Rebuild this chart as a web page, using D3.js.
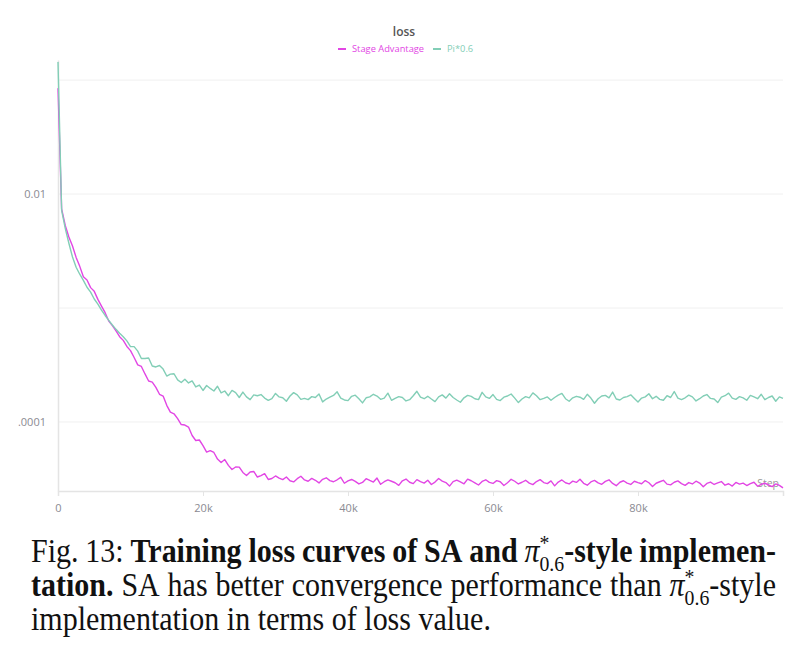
<!DOCTYPE html>
<html>
<head>
<meta charset="utf-8">
<script src="https://cdn.jsdelivr.net/npm/d3@7"></script>
<style>
  body { margin: 0; background: #fff; }
  svg { display: block; }
</style>
</head>
<body>
<svg id="chart" width="806" height="658"></svg>
<script>
// loss curves, one value logged every 500 steps (0 .. 100k)
const stepEvery = 500;

const stageAdvantage = [
  0.085, 0.0074, 0.0053, 0.0042, 0.0035, 0.00278, 0.00232, 0.00188, 0.00176, 0.00151,
  0.00140, 0.00119, 0.00104, 9.1e-4, 7.7e-4, 7.0e-4, 6.3e-4, 5.6e-4, 5.2e-4, 4.6e-4,
  4.23e-4, 3.68e-4, 3.17e-4, 3.07e-4, 2.64e-4, 2.29e-4, 2.24e-4, 2.01e-4, 1.75e-4, 1.69e-4,
  1.40e-4, 1.22e-4, 1.18e-4, 1.07e-4, 9.5e-5,
  9.40e-5, 9.02e-5, 7.61e-5, 6.88e-5, 6.95e-5, 6.21e-5, 5.44e-5, 5.61e-5, 5.40e-5, 4.73e-5,
  4.41e-5, 4.68e-5, 4.16e-5, 3.83e-5, 4.03e-5, 4.02e-5, 3.61e-5, 3.39e-5, 3.64e-5, 3.68e-5,
  3.29e-5, 3.39e-5, 3.52e-5, 3.13e-5, 3.19e-5, 3.36e-5,
  3.22e-5, 3.12e-5, 3.29e-5, 3.05e-5, 2.98e-5, 3.18e-5, 3.34e-5, 3.10e-5, 3.02e-5, 3.20e-5,
  3.08e-5, 2.92e-5, 3.14e-5, 3.24e-5, 3.06e-5, 2.99e-5, 3.11e-5, 3.27e-5, 2.90e-5, 3.04e-5,
  3.13e-5, 3.01e-5, 2.86e-5, 2.95e-5, 3.18e-5, 3.07e-5, 2.97e-5, 3.22e-5, 2.84e-5, 2.99e-5,
  3.10e-5, 3.02e-5, 2.93e-5, 2.78e-5, 3.05e-5, 3.16e-5, 2.96e-5, 2.88e-5, 3.12e-5, 3.00e-5,
  2.91e-5, 3.08e-5, 2.83e-5, 2.97e-5, 3.19e-5, 3.03e-5, 2.94e-5, 2.74e-5, 3.00e-5, 3.09e-5,
  2.98e-5, 2.87e-5, 3.15e-5, 3.05e-5, 2.92e-5, 2.80e-5, 3.01e-5, 3.11e-5, 2.95e-5, 2.89e-5,
  3.06e-5, 2.99e-5, 2.77e-5, 2.93e-5, 3.14e-5, 3.02e-5, 2.86e-5, 2.96e-5, 3.08e-5, 2.91e-5,
  2.82e-5, 3.00e-5, 3.12e-5, 2.94e-5, 2.88e-5, 3.04e-5, 2.75e-5, 2.97e-5, 3.10e-5, 2.93e-5,
  2.86e-5, 3.03e-5, 2.95e-5, 3.15e-5, 2.90e-5, 2.79e-5, 2.98e-5, 3.07e-5, 2.92e-5, 2.84e-5,
  3.01e-5, 3.11e-5, 2.89e-5, 2.76e-5, 2.96e-5, 3.05e-5, 2.91e-5, 2.83e-5, 3.02e-5, 2.94e-5,
  2.87e-5, 3.06e-5, 2.93e-5, 2.72e-5, 2.90e-5, 2.99e-5, 3.08e-5, 2.85e-5, 2.81e-5, 2.96e-5,
  3.04e-5, 2.88e-5, 2.78e-5, 2.94e-5, 2.86e-5, 3.02e-5, 2.91e-5, 2.70e-5, 2.89e-5, 2.97e-5,
  2.83e-5, 2.92e-5, 3.00e-5, 2.79e-5, 2.87e-5, 2.74e-5, 2.95e-5, 2.85e-5, 2.91e-5, 2.77e-5,
  2.88e-5, 2.96e-5, 2.73e-5, 2.84e-5, 2.90e-5, 2.80e-5, 2.71e-5, 2.86e-5, 2.78e-5, 2.64e-5
];

const piStar06 = [
  0.144, 0.0072, 0.0050, 0.0037, 0.0028, 0.00228, 0.00198, 0.00175, 0.00152, 0.00138,
  0.00120, 0.00108, 9.6e-4, 8.6e-4, 7.8e-4, 7.1e-4, 6.5e-4, 6.0e-4, 5.6e-4, 5.15e-4,
  4.59e-4, 4.58e-4, 4.19e-4, 3.61e-4, 3.61e-4, 3.64e-4, 3.10e-4, 3.04e-4, 3.13e-4, 2.91e-4,
  2.53e-4, 2.63e-4, 2.65e-4, 2.34e-4, 2.22e-4, 2.37e-4, 2.20e-4, 2.29e-4, 2.03e-4, 2.11e-4,
  1.89e-4, 2.09e-4, 1.97e-4, 1.87e-4, 2.06e-4, 1.80e-4, 1.87e-4, 1.70e-4, 1.89e-4, 1.81e-4,
  1.64e-4, 1.83e-4, 1.66e-4, 1.57e-4, 1.73e-4,
  1.70e-4, 1.74e-4, 1.62e-4, 1.55e-4, 1.60e-4, 1.78e-4, 1.66e-4, 1.63e-4, 1.52e-4, 1.69e-4,
  1.81e-4, 1.73e-4, 1.58e-4, 1.61e-4, 1.57e-4, 1.67e-4, 1.64e-4, 1.76e-4, 1.50e-4, 1.59e-4,
  1.65e-4, 1.71e-4, 1.84e-4, 1.62e-4, 1.56e-4, 1.54e-4, 1.68e-4, 1.72e-4, 1.60e-4, 1.47e-4,
  1.63e-4, 1.66e-4, 1.75e-4, 1.69e-4, 1.58e-4, 1.62e-4, 1.79e-4, 1.55e-4, 1.61e-4, 1.67e-4,
  1.64e-4, 1.53e-4, 1.57e-4, 1.70e-4, 1.86e-4, 1.65e-4, 1.60e-4, 1.68e-4, 1.59e-4, 1.51e-4,
  1.66e-4, 1.73e-4, 1.62e-4, 1.77e-4, 1.64e-4, 1.56e-4, 1.49e-4, 1.63e-4, 1.71e-4, 1.68e-4,
  1.60e-4, 1.57e-4, 1.82e-4, 1.66e-4, 1.61e-4, 1.74e-4, 1.58e-4, 1.54e-4, 1.65e-4, 1.69e-4,
  1.76e-4, 1.62e-4, 1.48e-4, 1.59e-4, 1.67e-4, 1.63e-4, 1.80e-4, 1.70e-4, 1.57e-4, 1.61e-4,
  1.66e-4, 1.55e-4, 1.64e-4, 1.72e-4, 1.78e-4, 1.60e-4, 1.52e-4, 1.63e-4, 1.68e-4, 1.65e-4,
  1.58e-4, 1.75e-4, 1.62e-4, 1.46e-4, 1.60e-4, 1.69e-4, 1.71e-4, 1.63e-4, 1.83e-4, 1.59e-4,
  1.56e-4, 1.64e-4, 1.67e-4, 1.73e-4, 1.61e-4, 1.50e-4, 1.62e-4, 1.66e-4, 1.77e-4, 1.60e-4,
  1.68e-4, 1.58e-4, 1.55e-4, 1.70e-4, 1.64e-4, 1.85e-4, 1.62e-4, 1.57e-4, 1.63e-4, 1.72e-4,
  1.66e-4, 1.53e-4, 1.60e-4, 1.69e-4, 1.74e-4, 1.61e-4, 1.59e-4, 1.48e-4, 1.65e-4, 1.70e-4,
  1.79e-4, 1.62e-4, 1.58e-4, 1.67e-4, 1.63e-4, 1.55e-4, 1.71e-4, 1.66e-4, 1.60e-4, 1.75e-4,
  1.57e-4, 1.64e-4, 1.69e-4, 1.52e-4, 1.66e-4, 1.61e-4
];

const seriesNames = ["Stage Advantage", "Pi*0.6"];
const seriesColors = ["#e246e4", "#82ceb6"];
const xTicks = [0, 20000, 40000, 60000, 80000];
const yTicks = [0.01, 0.0001];
const yTickLabels = ["0.01", ".0001"];
const yGrid = [0.1, 0.01, 0.001, 0.0001];

const svg = d3.select("#chart");
const uiFont = "'Open Sans', 'Noto Sans', sans-serif";

const x = d3.scaleLinear().domain([0, 100000]).range([58, 783]);
const y = d3.scaleLog().domain([2.48e-5, 0.15]).range([491, 60]);

// grid
svg.append("g").selectAll("line")
  .data(yGrid).enter().append("line")
  .attr("x1", x(0)).attr("x2", x(100000))
  .attr("y1", d => y(d)).attr("y2", d => y(d))
  .attr("stroke", "#f0f0f0").attr("stroke-width", 1);

// x axis
const xAxis = svg.append("g")
  .attr("transform", "translate(0," + y.range()[0] + ")")
  .call(d3.axisBottom(x).tickValues(xTicks).tickFormat(d3.format("~s")).tickSize(5).tickPadding(8));
xAxis.select(".domain").attr("stroke", "#e4e4e4").attr("stroke-width", 1.5);
xAxis.selectAll(".tick line").attr("stroke", "#e4e4e4");
xAxis.selectAll("text").attr("fill", "#8a8a92").attr("font-size", 11).attr("font-family", uiFont);

// y axis
const yAxis = svg.append("g")
  .attr("transform", "translate(" + x(0) + ",0)")
  .call(d3.axisLeft(y).tickValues(yTicks).tickFormat((d, i) => yTickLabels[i]).tickSize(0).tickPadding(12));
yAxis.select(".domain").attr("stroke", "#e4e4e4").attr("stroke-width", 1.5);
yAxis.selectAll("text").attr("fill", "#8a8a92").attr("font-size", 11).attr("font-family", uiFont);

// "Step" label inside the plot
svg.append("text")
  .attr("x", 779).attr("y", 487)
  .attr("text-anchor", "end")
  .attr("font-family", uiFont).attr("font-size", 10.5)
  .attr("fill", "#999")
  .text("Step");

// lines
const line = d3.line()
  .x((d, i) => x(i * stepEvery))
  .y(d => y(d));

svg.append("path")
  .datum(stageAdvantage)
  .attr("fill", "none")
  .attr("stroke", seriesColors[0])
  .attr("stroke-width", 1.4)
  .attr("stroke-linejoin", "round")
  .attr("d", line);

svg.append("path")
  .datum(piStar06)
  .attr("fill", "none")
  .attr("stroke", seriesColors[1])
  .attr("stroke-width", 1.4)
  .attr("stroke-linejoin", "round")
  .attr("d", line);

// title + legend
svg.append("text")
  .attr("x", 404).attr("y", 36)
  .attr("text-anchor", "middle")
  .attr("font-family", uiFont).attr("font-size", 12).attr("font-weight", 600)
  .attr("fill", "#555")
  .text("loss");

const legendX = [338, 433];
const legend = svg.append("g").selectAll("g")
  .data(seriesNames).enter().append("g")
  .attr("transform", (d, i) => "translate(" + legendX[i] + ",49)");
legend.append("line")
  .attr("x1", 0).attr("x2", 8)
  .attr("stroke", (d, i) => seriesColors[i]).attr("stroke-width", 2);
legend.append("text")
  .attr("x", 14).attr("y", 3.2)
  .attr("font-family", uiFont).attr("font-size", 9.3)
  .attr("fill", (d, i) => seriesColors[i])
  .text(d => d);

// caption (justified like the paper)
const capFont = "'Liberation Serif', 'Times New Roman', serif";
const capSize = 30, capLeft = 31, capRight = 776;
const piTok = style => [["π", "m"], ["*", "sup"], ["0.6", "sub"], ["-style", style]];
const captionLines = [
  { base: 562, justify: true, words: [
    [["Fig.", "r"]], [["13:", "r"]], [["Training", "b"]], [["loss", "b"]], [["curves", "b"]],
    [["of", "b"]], [["SA", "b"]], [["and", "b"]], piTok("b"), [["implemen-", "b"]] ] },
  { base: 596, justify: true, words: [
    [["tation.", "b"]], [["SA", "r"]], [["has", "r"]], [["better", "r"]], [["convergence", "r"]],
    [["performance", "r"]], [["than", "r"]], piTok("r") ] },
  { base: 630, justify: false, words: [
    [["implementation", "r"]], [["in", "r"]], [["terms", "r"]], [["of", "r"]], [["loss", "r"]], [["value.", "r"]] ] }
];

const cap = svg.append("g").attr("font-family", capFont).attr("fill", "#111");

captionLines.forEach(ln => {
  const groups = ln.words.map(runs => {
    const g = cap.append("g");
    let cx = 0, scriptX = 0, scriptEnd = 0;
    runs.forEach(([t, s]) => {
      const te = g.append("text").text(t);
      if (s === "sup" || s === "sub") {
        // stacked script: the subscript sits under the superscript
        if (s === "sup") scriptX = cx;
        te.attr("x", scriptX).attr("y", s === "sup" ? -11 : 8)
          .attr("font-size", capSize * 0.66);
        scriptEnd = Math.max(scriptEnd, scriptX + te.node().getComputedTextLength());
        cx = scriptEnd;
      } else {
        te.attr("x", cx).attr("font-size", capSize)
          .attr("font-weight", s === "b" ? "bold" : "normal")
          .attr("font-style", s === "m" ? "italic" : "normal");
        cx += te.node().getComputedTextLength();
      }
    });
    return { g, w: cx };
  });
  const total = d3.sum(groups, d => d.w);
  const gap = ln.justify ? (capRight - capLeft - total) / (groups.length - 1) : capSize * 0.25;
  let px = capLeft;
  groups.forEach(d => {
    d.g.attr("transform", "translate(" + px + "," + ln.base + ") scale(1,1.1)");
    px += d.w + gap;
  });
});
</script>
</body>
</html>
